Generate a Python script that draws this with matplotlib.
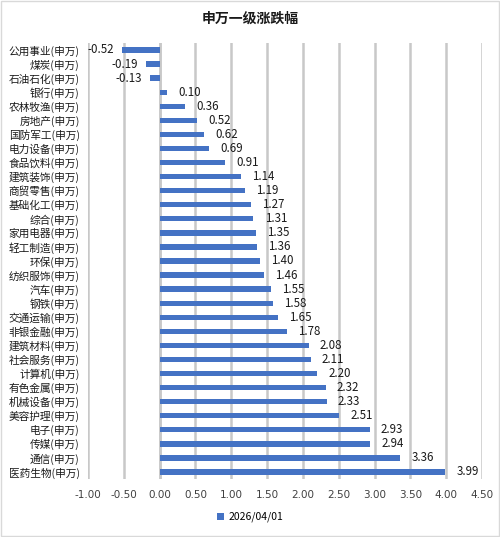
import matplotlib
matplotlib.use("Agg")
import matplotlib.pyplot as plt
from matplotlib.patches import Rectangle

plt.rcParams['font.family'] = ['Noto Sans CJK SC', 'DejaVu Sans']

categories = ["公用事业(申万)", "煤炭(申万)", "石油石化(申万)", "银行(申万)", "农林牧渔(申万)",
              "房地产(申万)", "国防军工(申万)", "电力设备(申万)", "食品饮料(申万)", "建筑装饰(申万)",
              "商贸零售(申万)", "基础化工(申万)", "综合(申万)", "家用电器(申万)", "轻工制造(申万)",
              "环保(申万)", "纺织服饰(申万)", "汽车(申万)", "钢铁(申万)", "交通运输(申万)",
              "非银金融(申万)", "建筑材料(申万)", "社会服务(申万)", "计算机(申万)", "有色金属(申万)",
              "机械设备(申万)", "美容护理(申万)", "电子(申万)", "传媒(申万)", "通信(申万)",
              "医药生物(申万)"]
values = [-0.52, -0.19, -0.13, 0.10, 0.36, 0.52, 0.62, 0.69, 0.91, 1.14,
          1.19, 1.27, 1.31, 1.35, 1.36, 1.40, 1.46, 1.55, 1.58, 1.65,
          1.78, 2.08, 2.11, 2.20, 2.32, 2.33, 2.51, 2.93, 2.94, 3.36, 3.99]
xticks = [-1.0, -0.5, 0.0, 0.5, 1.0, 1.5, 2.0, 2.5, 3.0, 3.5, 4.0, 4.5]
series_name = "2026/04/01"
title = "申万一级涨跌幅"

fig = plt.figure(figsize=(5.0, 5.37), dpi=100)
fig.patches.append(Rectangle((0.002, 0.002), 0.996, 0.996, transform=fig.transFigure,
                             fill=False, edgecolor='#d9d9d9', linewidth=1.0))
ax = fig.add_axes([0.176, 0.108, 0.788, 0.812])

n = len(categories)
ypos = list(range(n))
color = '#4472C4'
bars = ax.barh(ypos, values, height=0.38, color=color, label=series_name, zorder=3)
ax.set_ylim(n - 0.5, -0.5)
ax.set_xlim(-1.0, 4.5)
ax.set_xticks(xticks)
ax.set_xticklabels([f"{t:.2f}" for t in xticks], fontsize=7.5, color='#404040',
                   family=['DejaVu Sans'])
ax.set_yticks(ypos)
ax.set_yticklabels(categories, fontsize=7.7, color='#1a1a1a')
ax.tick_params(axis='both', length=0)
ax.tick_params(axis='x', pad=8)
ax.tick_params(axis='y', pad=6)
for s in ax.spines.values():
    s.set_visible(False)
ax.grid(axis='x', color='#c8c8c8', linewidth=1.8, zorder=0)
ax.axvline(0, color='#c8c8c8', linewidth=1.8, zorder=1)

for y, v in zip(ypos, values):
    if v >= 0:
        ax.annotate(f"{v:.2f}", (v, y), xytext=(8, 0), textcoords='offset points',
                    va='center', ha='left', fontsize=8.3, color='#1a1a1a')
    else:
        ax.annotate(f"{v:.2f}", (v, y), xytext=(-6, 0), textcoords='offset points',
                    va='center', ha='right', fontsize=8.3, color='#1a1a1a')

fig.text(0.5, 0.965, title, ha='center', va='center', fontsize=10, fontweight='bold',
         color='#1a1a1a')
fig.legend(handles=[bars], labels=[series_name], loc='center', bbox_to_anchor=(0.5, 0.037),
           frameon=False, fontsize=7.5, handlelength=0.7, handleheight=0.7,
           handletextpad=0.4)

fig.savefig("out.png", dpi=100)
